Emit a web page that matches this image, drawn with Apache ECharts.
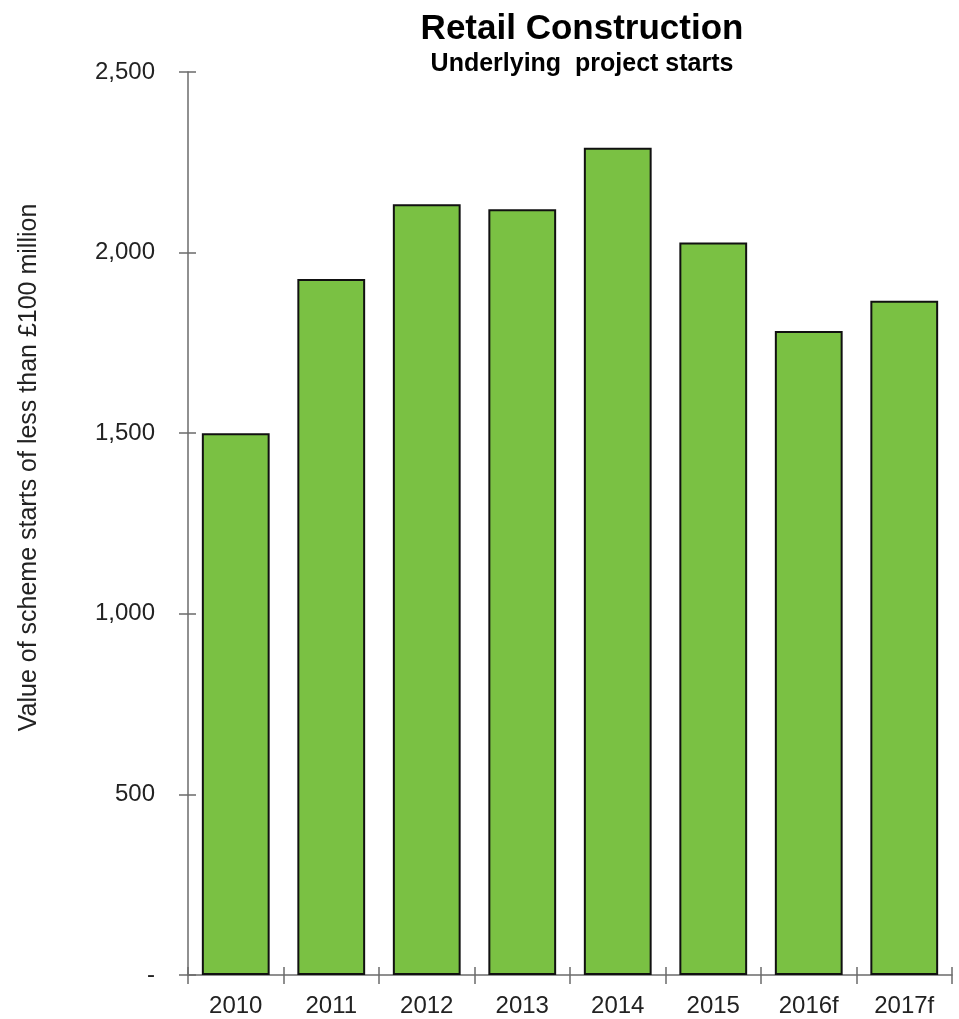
<!DOCTYPE html>
<html><head><meta charset="utf-8">
<script src="https://cdn.jsdelivr.net/npm/echarts@6/dist/echarts.min.js"></script>
<style>html,body{margin:0;padding:0;background:#fff}#c{width:959px;height:1019px}</style>
</head><body><div id="c"></div>
<script>
const categories = ['2010','2011','2012','2013','2014','2015','2016f','2017f'];
const values = [1500, 1927, 2134, 2120, 2290, 2028, 1783, 1867];
const yTicks = [0, 500, 1000, 1500, 2000, 2500];
const titleText = 'Retail Construction';
const subtitleText = 'Underlying  project starts';
const yAxisName = 'Value of scheme starts of less than £100 million';

const chart = echarts.init(document.getElementById('c'));
const font = 'Liberation Sans, Arial, sans-serif';
const axisCol = '#6b6b6b';
chart.setOption({
  animation: false,
  title: {
    text: titleText, subtext: subtitleText, left: 577, top: 7, textAlign: 'center', itemGap: 5,
    textStyle: {fontFamily: font, fontSize: 35, fontWeight: 'bold', color: '#000'},
    subtextStyle: {fontFamily: font, fontSize: 25, fontWeight: 'bold', color: '#000'}
  },
  grid: {left: 188, right: 7, top: 72, bottom: 44, containLabel: false},
  xAxis: [{
    type: 'category', data: categories,
    axisLine: {lineStyle: {color: axisCol, width: 1.5}},
    axisTick: {show: true, length: 9, lineStyle: {color: axisCol, width: 1.5}},
    axisLabel: {fontFamily: font, fontSize: 24, color: '#222', margin: 19}
  }, {
    type: 'category', data: categories, position: 'bottom',
    axisLine: {show: false},
    axisTick: {show: true, inside: true, length: 8, lineStyle: {color: axisCol, width: 1.5}},
    axisLabel: {show: false}
  }],
  yAxis: [{
    type: 'value', min: yTicks[0], max: yTicks[yTicks.length-1], interval: 500,
    name: yAxisName, nameLocation: 'middle', nameGap: 146, nameRotate: 90,
    nameTextStyle: {fontFamily: font, fontSize: 25, color: '#222', padding: [0, 0, 0, 112]},
    splitLine: {show: false},
    axisLine: {show: true, lineStyle: {color: axisCol, width: 1.5}},
    axisTick: {show: true, length: 9, lineStyle: {color: axisCol, width: 1.5}},
    axisLabel: {fontFamily: font, fontSize: 24, color: '#222', margin: 33,
      formatter: v => v === 0 ? '-' : v.toLocaleString('en-US')}
  }, {
    type: 'value', min: yTicks[0], max: yTicks[yTicks.length-1], interval: 500, position: 'left',
    splitLine: {show: false}, axisLine: {show: false},
    axisTick: {show: true, inside: true, length: 8, lineStyle: {color: axisCol, width: 1.5}},
    axisLabel: {show: false}
  }],
  series: [{
    type: 'bar', data: values, barCategoryGap: '29%',
    itemStyle: {color: '#7AC143', borderColor: '#111', borderWidth: 2}
  }]
});
</script></body></html>
